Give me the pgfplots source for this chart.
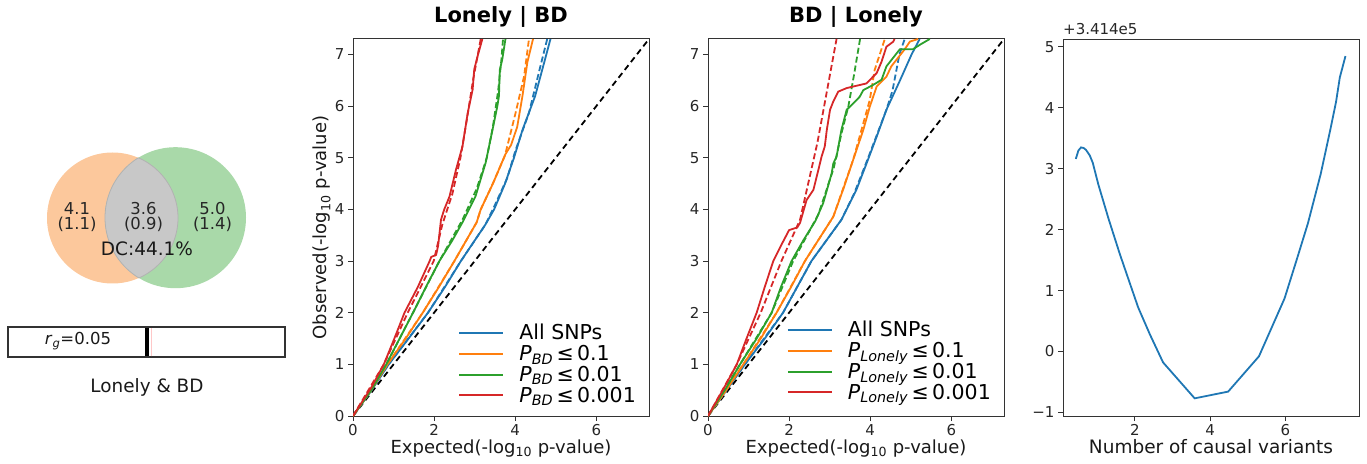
\documentclass[border=0pt]{standalone}
\usepackage{fontspec}
\setmainfont{DejaVu Sans}
\usepackage{pgfplots}
\pgfplotsset{compat=1.18}
\definecolor{tabblue}{HTML}{1F77B4}
\definecolor{taborange}{HTML}{FF7F0E}
\definecolor{tabgreen}{HTML}{2CA02C}
\definecolor{tabred}{HTML}{D62728}
\definecolor{vorange}{RGB}{252,200,156}
\definecolor{vgreen}{RGB}{169,217,169}
\definecolor{vlens}{RGB}{200,200,200}
\definecolor{pinkline}{RGB}{255,200,200}
\pgfplotsset{
 base/.style={
  scale only axis, width=296pt, height=377pt,
  tick align=outside, tick pos=left, major tick length=5pt,
  axis line style={line width=1pt, black!80},
  every tick/.style={line width=1pt, black!80},
  tick label style={font=\fontsize{15}{18}\selectfont, text=black!85},
  /pgf/number format/assume math mode=true,
  label style={font=\fontsize{18}{21}\selectfont, text=black!90},
  xlabel style={at={(axis description cs:0.5,0)}, anchor=base, yshift=-37pt},
  title style={at={(axis description cs:0.5,1)}, anchor=base, yshift=10pt, font=\fontsize{21}{25}\selectfont\bfseries},
 },
 qq/.style={
  base,
  xmin=0,xmax=7.3,ymin=0,ymax=7.3,
  xtick={0,2,4,6}, ytick={0,1,2,3,4,5,6,7},
  legend style={draw=none, fill=none, inner sep=0pt, font=\fontsize{20.5}{24}\selectfont, cells={anchor=west}, row sep=0pt},
  legend image code/.code={\draw[##1] (0pt,0pt) -- (44pt,0pt); \path (57pt,0pt);},
  every axis plot/.append style={line width=1.8pt},
 },
}
\begin{document}
\begin{tikzpicture}
\path[use as bounding box] (0,0) rectangle (1367pt,463pt);

% ---------------- Venn + r_g bar ----------------
\begin{axis}[at={(0pt,0pt)}, anchor=origin, x=1pt, y=1pt, xmin=0, xmax=300, ymin=0, ymax=463, hide axis, clip=false]
\fill[vorange] (axis cs:112.5,245) circle[radius=65.5];
\fill[vgreen] (axis cs:175.5,245.3) circle[radius=70.5];
\begin{scope}
\clip (axis cs:112.5,245) circle[radius=65.5];
\fill[vlens] (axis cs:175.5,245.3) circle[radius=70.5];
\end{scope}
\begin{scope}
\clip (axis cs:112.5,245) circle[radius=65.5];
\draw[black!30, line width=0.8pt] (axis cs:175.5,245.3) circle[radius=70.5];
\end{scope}
\begin{scope}
\clip (axis cs:175.5,245.3) circle[radius=70.5];
\draw[black!30, line width=0.8pt] (axis cs:112.5,245) circle[radius=65.5];
\end{scope}
\node[font=\fontsize{16.4}{19}\selectfont, text=black!85, align=center] at (axis cs:77,246) {4.1\\[-4pt](1.1)};
\node[font=\fontsize{16.4}{19}\selectfont, text=black!85, align=center] at (axis cs:143.5,246) {3.6\\[-4pt](0.9)};
\node[font=\fontsize{16.4}{19}\selectfont, text=black!85, align=center] at (axis cs:212.5,246) {5.0\\[-4pt](1.4)};
\node[font=\fontsize{18.5}{22}\selectfont, text=black!90] at (axis cs:147,214.5) {DC:44.1\%};
\draw[black!80, line width=1.2pt] (axis cs:8,106) rectangle (axis cs:285,136);
\draw[pinkline, line width=1.5pt] (axis cs:151.5,106.6) -- (axis cs:151.5,135.4);
\draw[black, line width=3.5pt] (axis cs:147,106.6) -- (axis cs:147,135.4);
\node[font=\fontsize{16.5}{19}\selectfont, text=black!90] at (axis cs:78,122) {\textit{r}\textsubscript{\textit{g}}=0.05};
\node[font=\fontsize{18.4}{22}\selectfont, text=black!90] at (axis cs:147,76) {Lonely \& BD};
\end{axis}

% ---------------- Lonely | BD ----------------
\begin{axis}[qq, at={(353pt,47pt)}, anchor=south west,
  title={Lonely | BD},
  xlabel={Expected(-log\textsubscript{10} p-value)},
  ylabel={Observed(-log\textsubscript{10} p-value)},
  ylabel style={at={(axis description cs:0,0.5)}, anchor=center, yshift=31pt},
  legend style={at={(axis description cs:0.963,0.027)}, anchor=south east}]
\addplot[black, dashed, dash pattern=on 6pt off 4pt, forget plot] coordinates {(0,0) (7.3,7.3)};
\addplot[tabblue, forget plot] coordinates {(0,0) (0.46,0.5) (0.88,1.0) (1.37,1.5) (1.85,2.0) (2.27,2.5) (2.66,3.0) (3.26,3.7) (3.48,4.0) (3.75,4.5) (3.97,5.0) (4.18,5.54) (4.49,6.19) (4.71,6.83) (4.87,7.3)};
\addplot[tabblue, dashed, dash pattern=on 6pt off 3pt, forget plot] coordinates {(0,0) (0.88,1.0) (1.85,2.0) (2.66,3.0) (3.26,3.7) (3.45,4.0) (3.8,4.6) (4.01,5.15) (4.34,5.87) (4.58,6.64) (4.79,7.3)};
\addplot[taborange, forget plot] coordinates {(0,0) (0.45,0.5) (0.85,1.0) (1.3,1.5) (1.72,2.0) (2.12,2.5) (2.50,3.0) (3.05,3.75) (3.15,4.0) (3.45,4.5) (3.76,5.07) (3.9,5.25) (4.05,5.6) (4.18,6.2) (4.3,6.85) (4.44,7.3)};
\addplot[taborange, dashed, dash pattern=on 6pt off 3pt, forget plot] coordinates {(0,0) (0.85,1.0) (1.72,2.0) (2.50,3.0) (3.05,3.75) (3.15,4.0) (3.45,4.5) (3.75,5.05) (4.01,5.87) (4.22,6.58) (4.34,7.3)};
\addplot[tabgreen, forget plot] coordinates {(0,0) (0.45,0.5) (0.82,1.0) (1.15,1.5) (1.48,2.0) (1.8,2.5) (2.13,3.0) (2.45,3.4) (2.7,3.75) (3.02,4.25) (3.27,4.9) (3.44,5.54) (3.56,6.0) (3.6,6.2) (3.62,6.7) (3.68,6.9) (3.76,7.3)};
\addplot[tabgreen, dashed, dash pattern=on 6pt off 3pt, forget plot] coordinates {(0,0) (0.82,1.0) (1.48,2.0) (2.13,3.0) (2.7,3.8) (3.05,4.4) (3.3,5.0) (3.45,5.6) (3.58,6.3) (3.66,6.9) (3.70,7.3)};
\addplot[tabred, forget plot] coordinates {(0,0) (0.45,0.55) (0.76,1.0) (1.02,1.5) (1.27,2.0) (1.6,2.5) (1.89,3.0) (1.93,3.08) (2.05,3.12) (2.1,3.3) (2.17,3.8) (2.25,4.0) (2.38,4.25) (2.54,4.77) (2.70,5.22) (2.83,5.87) (2.95,6.32) (2.99,6.71) (3.07,6.96) (3.19,7.3)};
\addplot[tabred, dashed, dash pattern=on 6pt off 3pt, forget plot] coordinates {(0,0) (0.76,1.0) (1.35,2.0) (1.99,3.0) (2.2,3.7) (2.45,4.3) (2.65,5.0) (2.82,5.8) (2.96,6.5) (3.15,7.3)};
\addlegendimage{tabblue, line width=2pt}
\addlegendentry{All SNPs}
\addlegendimage{taborange, line width=2pt}
\addlegendentry{\textit{P}\textsubscript{\textit{BD}}\,≤\,0.1}
\addlegendimage{tabgreen, line width=2pt}
\addlegendentry{\textit{P}\textsubscript{\textit{BD}}\,≤\,0.01}
\addlegendimage{tabred, line width=2pt}
\addlegendentry{\textit{P}\textsubscript{\textit{BD}}\,≤\,0.001}
\end{axis}

% ---------------- BD | Lonely ----------------
\begin{axis}[qq, at={(708pt,47pt)}, anchor=south west,
  title={BD | Lonely},
  xlabel={Expected(-log\textsubscript{10} p-value)},
  legend style={at={(axis description cs:0.963,0.035)}, anchor=south east}]
\addplot[black, dashed, dash pattern=on 6pt off 4pt, forget plot] coordinates {(0,0) (7.3,7.3)};
\addplot[tabblue, forget plot] coordinates {(0,0) (0.45,0.5) (0.91,1.0) (1.4,1.5) (1.85,2.0) (2.2,2.5) (2.55,3.0) (3.29,3.8) (3.66,4.38) (3.91,4.89) (4.16,5.41) (4.40,5.93) (4.73,6.49) (5.02,7.0) (5.22,7.3)};
\addplot[tabblue, dashed, dash pattern=on 6pt off 3pt, forget plot] coordinates {(0,0) (0.91,1.0) (1.85,2.0) (2.55,3.0) (3.29,3.8) (3.6,4.3) (3.95,5.0) (4.40,5.93) (4.55,6.3) (4.72,7.0) (4.85,7.3)};
\addplot[taborange, forget plot] coordinates {(0,0) (0.45,0.5) (0.87,1.0) (1.3,1.5) (1.69,2.0) (2.05,2.5) (2.39,3.0) (3.09,3.86) (3.33,4.38) (3.58,4.96) (3.83,5.54) (3.99,5.99) (4.16,6.38) (4.40,6.57) (4.52,6.77) (4.65,6.9) (4.85,7.1) (4.98,7.25) (5.18,7.3)};
\addplot[taborange, dashed, dash pattern=on 6pt off 3pt, forget plot] coordinates {(0,0) (0.87,1.0) (1.69,2.0) (2.39,3.0) (3.09,3.86) (3.58,4.96) (3.99,6.12) (4.11,6.7) (4.36,7.3)};
\addplot[tabgreen, forget plot] coordinates {(0,0) (0.43,0.52) (0.79,1.0) (1.2,1.5) (1.57,2.0) (1.8,2.5) (2.06,3.0) (2.35,3.4) (2.65,3.78) (2.84,4.12) (3.05,4.70) (3.09,4.89) (3.17,5.02) (3.29,5.54) (3.42,5.93) (3.54,6.02) (3.74,6.18) (3.83,6.31) (4.07,6.41) (4.28,6.51) (4.40,6.77) (4.52,6.89) (4.65,7.02) (4.73,7.1) (5.05,7.1) (5.25,7.2) (5.47,7.3)};
\addplot[tabgreen, dashed, dash pattern=on 6pt off 3pt, forget plot] coordinates {(0,0) (0.79,1.0) (1.57,2.0) (2.1,3.0) (2.72,3.9) (3.1,4.8) (3.3,5.5) (3.46,5.99) (3.6,6.6) (3.75,7.3)};
\addplot[tabred, forget plot] coordinates {(0,0) (0.4,0.55) (0.71,1.0) (0.95,1.5) (1.20,2.0) (1.4,2.5) (1.61,3.0) (1.8,3.3) (2.0,3.6) (2.2,3.65) (2.27,3.74) (2.43,4.18) (2.6,4.38) (2.72,4.76) (2.80,5.02) (2.88,5.22) (2.93,5.54) (3.01,5.93) (3.09,6.09) (3.21,6.28) (3.42,6.35) (3.91,6.44) (4.07,6.57) (4.16,6.64) (4.28,6.86) (4.40,7.15) (4.57,7.25) (4.6,7.3)};
\addplot[tabred, dashed, dash pattern=on 6pt off 3pt, forget plot] coordinates {(0,0) (0.71,1.0) (1.3,2.0) (1.81,3.0) (2.27,3.8) (2.7,5.3) (3.17,7.3)};
\addlegendimage{tabblue, line width=2pt}
\addlegendentry{All SNPs}
\addlegendimage{taborange, line width=2pt}
\addlegendentry{\textit{P}\textsubscript{\textit{Lonely}}\,≤\,0.1}
\addlegendimage{tabgreen, line width=2pt}
\addlegendentry{\textit{P}\textsubscript{\textit{Lonely}}\,≤\,0.01}
\addlegendimage{tabred, line width=2pt}
\addlegendentry{\textit{P}\textsubscript{\textit{Lonely}}\,≤\,0.001}
\end{axis}

% ---------------- Number of causal variants ----------------
\begin{axis}[base, at={(1063pt,47pt)}, anchor=south west, clip=false,
  xmin=0.09, xmax=7.96, ymin=-1.06, ymax=5.13,
  xtick={2,4,6}, ytick={-1,0,1,2,3,4,5},
  yticklabels={−1,0,1,2,3,4,5},
  xlabel={Number of causal variants},
  xlabel style={font=\fontsize{18.5}{22}\selectfont}]
\addplot[tabblue, line width=1.8pt] coordinates {(0.43,3.16) (0.50,3.30) (0.57,3.35) (0.64,3.34) (0.70,3.31) (0.80,3.22) (0.88,3.10) (1.03,2.74) (1.3,2.18) (1.6,1.6) (1.85,1.15) (2.09,0.72) (2.4,0.28) (2.75,-0.18) (3.59,-0.77) (4.48,-0.66) (5.30,-0.08) (5.98,0.87) (6.3,1.5) (6.6,2.1) (6.94,2.91) (7.2,3.65) (7.35,4.1) (7.45,4.5) (7.6,4.85)};
\node[anchor=base west, font=\fontsize{15}{18}\selectfont, text=black!85, inner sep=0pt] at (rel axis cs:0,1) [yshift=4pt] {+3.414e5};
\end{axis}
\end{tikzpicture}
\end{document}
